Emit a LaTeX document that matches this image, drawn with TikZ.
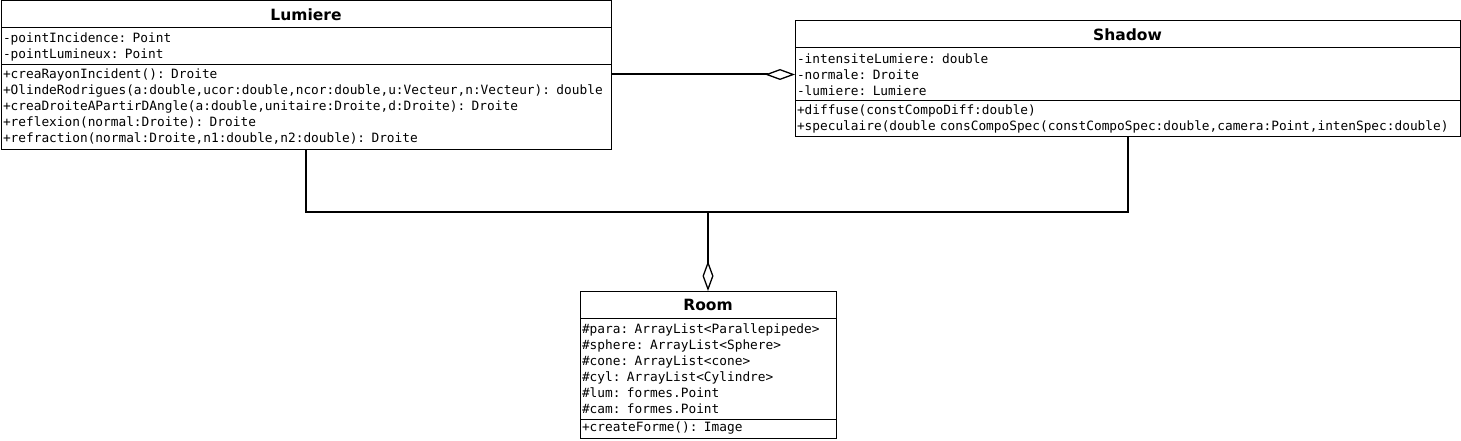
\documentclass[tikz,border=0pt]{standalone}
\usepackage{fontspec}
\setmainfont{DejaVu Sans}
\setmonofont{DejaVu Sans Mono}
\usetikzlibrary{positioning,arrows.meta}

\begin{document}
\begin{tikzpicture}[x=1pt,y=-1pt,
    classtitle/.style={draw,line width=1pt,outer sep=0pt,minimum height=27pt,inner sep=0pt,font=\fontsize{15.5}{18}\selectfont\bfseries},
    classpart/.style={draw,line width=1pt,outer sep=0pt,inner xsep=2pt,inner ysep=0pt,align=left,font=\fontsize{12.8}{16}\selectfont\ttfamily},
    aggr/.style={line width=2pt,-{Diamond[open,length=30pt,width=11pt,line width=1.3pt]}},
    link/.style={line width=2pt}]
    \useasboundingbox (0,0) rectangle (1461,441);

    \node [classtitle,minimum width=610pt] (lum) at (306,14.5) {Lumiere};
    \node [classpart,text width=606pt,minimum height=37pt,below=0pt of lum] (lum-attr)
        {-pointIncidence: Point\\-pointLumineux: Point};
    \node [classpart,text width=606pt,minimum height=84pt,below=0pt of lum-attr] (lum-ops)
        {+creaRayonIncident(): Droite\\
         +OlindeRodrigues(a:double,ucor:double,ncor:double,u:Vecteur,n:Vecteur): double\\
         +creaDroiteAPartirDAngle(a:double,unitaire:Droite,d:Droite): Droite\\
         +reflexion(normal:Droite): Droite\\
         +refraction(normal:Droite,n1:double,n2:double): Droite};

    \node [classtitle,minimum width=665pt] (sha) at (1127.5,34.5) {Shadow};
    \node [classpart,text width=661pt,minimum height=53pt,below=0pt of sha] (sha-attr)
        {-intensiteLumiere: double\\-normale: Droite\\-lumiere: Lumiere};
    \node [classpart,text width=661pt,minimum height=36pt,below=0pt of sha-attr] (sha-ops)
        {+diffuse(constCompoDiff:double)\\
         +speculaire(double\ consCompoSpec(constCompoSpec:double,camera:Point,intenSpec:double)};

    \node [classtitle,minimum width=256pt] (room) at (708,304.5) {Room};
    \node [classpart,text width=252pt,minimum height=101pt,below=0pt of room] (room-attr)
        {\#para: ArrayList<Parallepipede>\\\#sphere: ArrayList<Sphere>\\\#cone: ArrayList<cone>\\
         \#cyl: ArrayList<Cylindre>\\\#lum: formes.Point\\\#cam: formes.Point};
    \node [classpart,text width=252pt,minimum height=19pt,below=0pt of room-attr] (room-ops)
        {+createForme(): Image};

    \coordinate (join) at (708,212);
    \draw [aggr] (sha-attr.west -| lum-ops.east) -- (sha-attr.west);
    \draw [link] (lum-ops.south) |- (join);
    \draw [link] (sha-ops.south) |- (join);
    \draw [aggr] (join) -- (room.north);
\end{tikzpicture}
\end{document}
